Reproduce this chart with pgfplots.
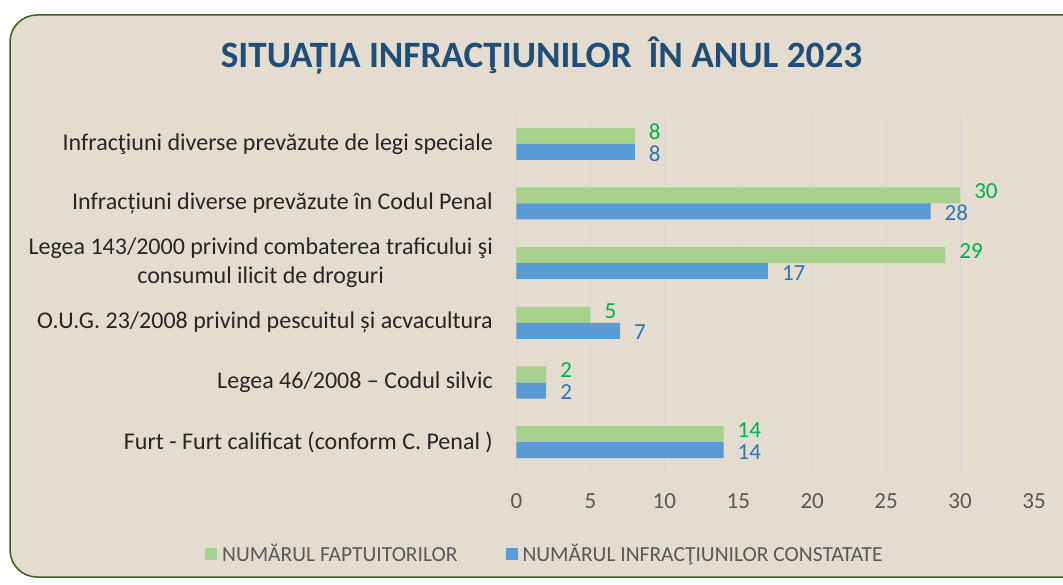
\documentclass[border=0pt]{standalone}
\usepackage{fontspec}
\setmainfont{Carlito}
\usepackage{pgfplots}
\pgfplotsset{compat=1.18}
\definecolor{cBg}{HTML}{E4DCCF}
\definecolor{cBorder}{HTML}{3B5E22}
\definecolor{cTitle}{HTML}{1F4E79}
\definecolor{cGreen}{HTML}{A9D18E}
\definecolor{cBlue}{HTML}{5B9BD5}
\definecolor{cGreenT}{HTML}{00B050}
\definecolor{cBlueT}{HTML}{2E75B6}
\definecolor{cTick}{HTML}{595959}
\definecolor{cLab}{HTML}{262626}
\definecolor{cGrid}{HTML}{D6D6DA}
\begin{document}
\begin{tikzpicture}
\useasboundingbox (0,0) rectangle (1063pt,584pt);
\fill[white] (0,0) rectangle (1063pt,584pt);
\draw[line width=1.5pt, draw=cBorder, fill=cBg, rounded corners=27pt] (10pt,7pt) rectangle (1100pt,569pt);
\node[anchor=base, font=\fontsize{37.2}{44}\selectfont\bfseries, text=cTitle, inner sep=0pt] at (541.5pt,516.5pt) {SITUAȚIA INFRACŢIUNILOR\ \ ÎN ANUL 2023};
\begin{axis}[
  at={(516.5pt,112pt)}, anchor=south west,
  scale only axis, width=517.5pt, height=358pt,
  xmin=0, xmax=35, ymin=-0.5, ymax=5.5,
  xbar, bar width=16pt,
  xtick={0,5,...,35},
  ytick={0,1,2,3,4,5},
  yticklabels={
    {Furt - Furt calificat (conform C. Penal )},
    {Legea 46/2008 – Codul silvic},
    {O.U.G. 23/2008 privind pescuitul și acvacultura},
    {Legea 143/2000 privind combaterea traficului şi\\consumul ilicit de droguri},
    {Infracțiuni diverse prevăzute în Codul Penal},
    {Infracţiuni diverse prevăzute de legi speciale}},
  axis line style={draw=none},
  tick style={draw=none},
  major tick length=0pt,
  xmajorgrids, ymajorgrids=false,
  major grid style={draw=cGrid, line width=0.9pt},
  /pgf/number format/assume math mode=true,
  xticklabel style={font=\fontsize{23}{27}\selectfont, text=cTick, inner sep=0pt, anchor=center, yshift=-29pt},
  yticklabel style={font=\fontsize{24}{29}\selectfont, text=cLab, align=center, inner sep=0pt, anchor=east, xshift=-23.5pt},
  nodes near coords,
  every node near coord/.append style={font=\fontsize{23}{27}\selectfont, anchor=west, inner sep=0pt, xshift=14pt},
  legend columns=2,
  legend style={at={(-0.602,-0.229)}, anchor=west, draw=none, fill=none, inner sep=0pt,
    font=\fontsize{21.5}{25}\selectfont, text=cTick,
    /tikz/every even column/.append style={column sep=46pt}},
  legend image code/.code={\fill[#1,draw=none] (0pt,-6pt) rectangle (12pt,6pt); \path (0pt,0pt) -- (15pt,0pt);},
  clip=false,
]
\addplot[fill=cGreen, draw=none, bar shift=8pt, every node near coord/.append style={text=cGreenT, yshift=4pt}] coordinates {
  (14,0) (2,1) (5,2) (29,3) (30,4) (8,5)};
\addlegendentry{NUMĂRUL FAPTUITORILOR}
\addplot[fill=cBlue, draw=none, bar shift=-8pt, every node near coord/.append style={text=cBlueT, yshift=-1.5pt}] coordinates {
  (14,0) (2,1) (7,2) (17,3) (28,4) (8,5)};
\addlegendentry{NUMĂRUL INFRACŢIUNILOR CONSTATATE}
\end{axis}
\end{tikzpicture}
\end{document}
